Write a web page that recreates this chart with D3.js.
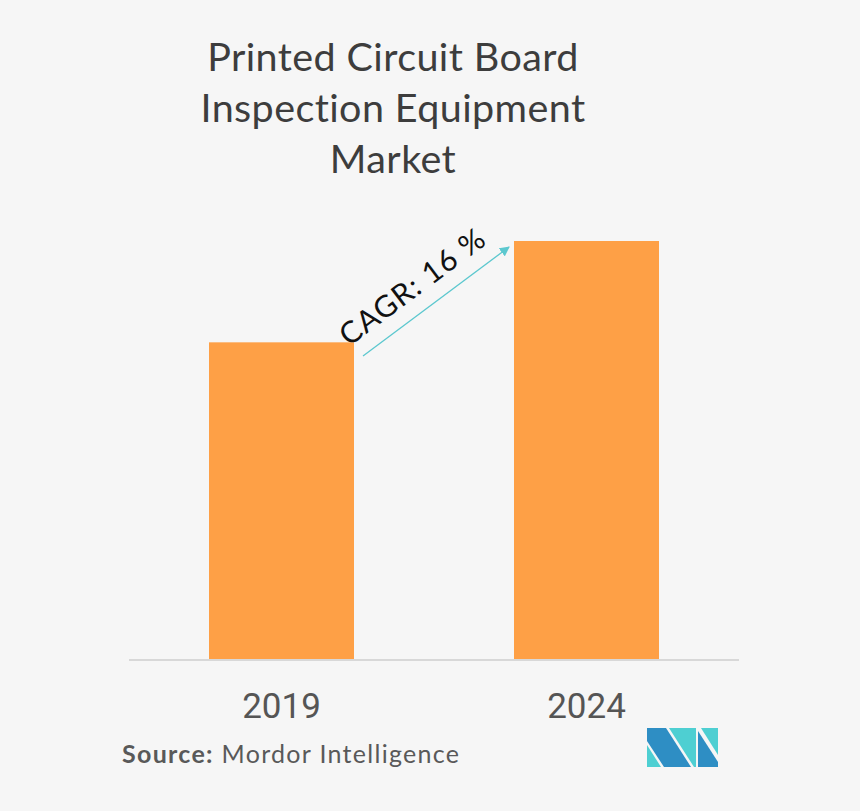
<!DOCTYPE html>
<meta charset="utf-8">
<style>
    body {
        margin: 0;
        padding: 0;
        background: #f6f6f6;
    }
    svg text {
        font-family: Lato, "Open Sans", sans-serif;
    }
</style>
<body>
<script src="https://cdnjs.cloudflare.com/ajax/libs/d3/7.8.5/d3.min.js"></script>
<script>

var titleLines = ["Printed Circuit Board", "Inspection Equipment", "Market"];
var years = ["2019", "2024"];
var values = [1.0, 1.32];
var cagrLabel = "CAGR: 16 %";

var width = 860,
    height = 811;

var svg = d3.select("body")
    .append("svg")
    .attr("width", width)
    .attr("height", height);

svg.append("rect")
    .attr("width", width)
    .attr("height", height)
    .attr("fill", "#f6f6f6");

// title
svg.append("g")
    .selectAll("text")
    .data(titleLines)
    .enter()
    .append("text")
    .attr("x", 393)
    .attr("y", (d, i) => 71 + i * 51)
    .attr("text-anchor", "middle")
    .attr("font-size", 39.5)
    .attr("letter-spacing", 0.4)
    .attr("fill", "#3d3d3d")
    .text(d => d);

var x = d3.scaleBand()
    .domain(years)
    .range([129, 739])
    .paddingInner(0.5246)
    .paddingOuter(0.2623);

var y = d3.scaleLinear()
    .domain([0, d3.max(values)])
    .range([659, 241]);

svg.append("g")
    .selectAll("rect")
    .data(years)
    .enter()
    .append("rect")
    .attr("x", d => x(d))
    .attr("y", (d, i) => y(values[i]))
    .attr("width", x.bandwidth())
    .attr("height", (d, i) => y(0) - y(values[i]))
    .attr("fill", "#fea046");

// baseline
svg.append("line")
    .attr("x1", 129)
    .attr("x2", 739)
    .attr("y1", 660)
    .attr("y2", 660)
    .attr("stroke", "#d8d8d8")
    .attr("stroke-width", 2);

// year labels
svg.append("g")
    .selectAll("text")
    .data(years)
    .enter()
    .append("text")
    .attr("x", d => x(d) + x.bandwidth() / 2)
    .attr("y", 718)
    .attr("text-anchor", "middle")
    .attr("font-size", 35)
    .style("font-family", "Roboto, sans-serif")
    .attr("fill", "#555")
    .text(d => d);

// CAGR arrow
svg.append("defs")
    .append("marker")
    .attr("id", "head")
    .attr("viewBox", "0 0 10 10")
    .attr("refX", 9)
    .attr("refY", 5)
    .attr("markerWidth", 10)
    .attr("markerHeight", 10)
    .attr("markerUnits", "userSpaceOnUse")
    .attr("orient", "auto")
    .append("path")
    .attr("d", "M0,0L10,5L0,10Z")
    .attr("fill", "#5cc8cf");

var x0 = x("2019") + x.bandwidth() + 9,
    y0 = 356,
    x1 = x("2024") - 5,
    y1 = 247;

svg.append("line")
    .attr("x1", x0)
    .attr("y1", y0)
    .attr("x2", x1)
    .attr("y2", y1)
    .attr("stroke", "#5cc8cf")
    .attr("stroke-width", 1.3)
    .attr("marker-end", "url(#head)");

var ang = Math.atan2(y1 - y0, x1 - x0) * 180 / Math.PI;

svg.append("text")
    .attr("transform", "translate(349,347) rotate(" + ang + ")")
    .attr("font-size", 30)
    .attr("letter-spacing", 1.2)
    .attr("fill", "#111")
    .text(cagrLabel);

// source
var src = svg.append("text")
    .attr("x", 122)
    .attr("y", 763)
    .attr("font-size", 25)
    .attr("letter-spacing", 1.3)
    .attr("fill", "#595959");
src.append("tspan").attr("font-weight", "bold").text("Source:");
src.append("tspan").text(" Mordor Intelligence");

// logo
var logo = svg.append("g");
var dark = "#2e8ec4", teal = "#4ecfd2";
var shapes = [
    {c: dark, p: [[647,728],[666,728],[691,767],[664,767],[647,741]]},
    {c: teal, p: [[647,745],[647,767],[661,767]]},
    {c: teal, p: [[669,728],[696,728],[696,767],[694,767]]},
    {c: teal, p: [[701,728],[718,728],[718,755]]},
    {c: dark, p: [[698,731],[718,762],[718,767],[698,767]]}
];
logo.selectAll("path")
    .data(shapes)
    .enter()
    .append("path")
    .attr("d", d => "M" + d.p.join("L") + "Z")
    .attr("fill", d => d.c);

</script>
